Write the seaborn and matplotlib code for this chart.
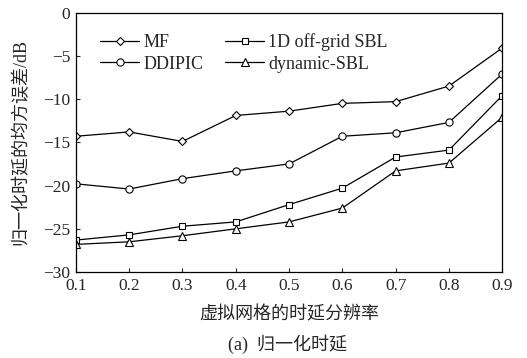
import pandas as pd
import numpy as np
import matplotlib
matplotlib.use('Agg')
import matplotlib.pyplot as plt
import seaborn as sns

# data
res = [0.1, 0.2, 0.3, 0.4, 0.5, 0.6, 0.7, 0.8, 0.9]
mf      = [-14.3, -13.8, -14.9, -11.9, -11.4, -10.5, -10.3, -8.5, -4.1]
ddipic  = [-19.8, -20.4, -19.2, -18.3, -17.5, -14.3, -13.9, -12.7, -7.1]
offgrid = [-26.3, -25.7, -24.7, -24.2, -22.2, -20.3, -16.7, -15.9, -9.6]
dynsbl  = [-26.8, -26.5, -25.8, -25.0, -24.2, -22.6, -18.3, -17.4, -12.1]

# legend fills column-first, so order gives rows MF | 1D..., DDIPIC | dynamic
methods = ['MF', 'DDIPIC', '1D off-grid SBL', 'dynamic-SBL']
series = [mf, ddipic, offgrid, dynsbl]
marks = {'MF': 'D', '1D off-grid SBL': 's', 'DDIPIC': 'o', 'dynamic-SBL': '^'}
msize = {'MF': 4.2, '1D off-grid SBL': 4.5, 'DDIPIC': 5.2, 'dynamic-SBL': 5.8}

df = pd.DataFrame({
    'res': res * len(methods),
    'err': sum(series, []),
    'method': np.repeat(methods, len(res)),
})

sns.set_style('ticks')
plt.rcParams['font.family'] = ['Liberation Serif', 'Noto Sans CJK SC']

fig = plt.figure(figsize=(5.27, 3.58), dpi=100)
ax = fig.add_axes([0.144, 0.24, 0.809, 0.725])

for m in methods:
    sub = df[df['method'] == m]
    sns.lineplot(data=sub, x='res', y='err', ax=ax, color='black', lw=0.9,
                 marker=marks[m], markersize=msize[m], markerfacecolor='white',
                 markeredgecolor='black', markeredgewidth=0.8, label=m)

ax.set_xlim(0.1, 0.9)
ax.set_ylim(-30, 0)
ax.set_xticks(res)
ax.set_xticklabels([f'{v:.1f}' for v in res])
ax.set_yticks(range(-30, 1, 5))
ax.set_yticklabels(['\u221230', '\u221225', '\u221220', '\u221215', '\u221210', '\u22125', '0'])
ax.tick_params(direction='in', length=3, width=0.8, labelsize=12.5, pad=4,
               top=False, right=False)
for s in ax.spines.values():
    s.set_linewidth(0.9)
    s.set_color('black')

ax.set_xlabel('虚拟网格的时延分辨率', fontsize=13, labelpad=9)
ax.set_ylabel('归一化时延的均方误差/dB', fontsize=13, labelpad=10)
fig.text(0.545, 0.022, '(a)  归一化时延', ha='center', fontsize=13)

ax.legend(loc='upper left', ncol=2, frameon=False, fontsize=13,
          bbox_to_anchor=(0.056, 0.92), handlelength=2.2, handletextpad=0.2,
          columnspacing=1.2, labelspacing=0.25, borderaxespad=0, borderpad=0)

fig.savefig('out.png', dpi=100)
